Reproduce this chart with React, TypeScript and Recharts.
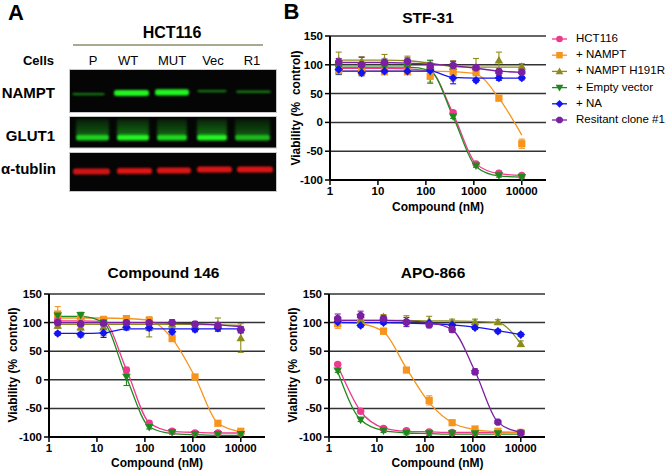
import React from 'react';
import { ComposedChart, Line, XAxis, YAxis, CartesianGrid, ErrorBar } from 'recharts';

// ---------- data ----------
const doses = [1.52, 4.57, 13.7, 41.2, 123, 370, 1111, 3333, 10000];
const xTicks = [1, 10, 100, 1000, 10000];
const yTicks = [-100, -50, 0, 50, 100, 150];
const seriesKeys = ['hct', 'nampt', 'h191r', 'vec', 'na', 'res'];
const seriesNames = ['HCT116', '+ NAMPT', '+ NAMPT H191R', '+ Empty vector', '+ NA', 'Resitant clone #1'];

// STF-31
const stfHct = [95, 93, 93, 94, 92, 17, -72, -88, -92];
const stfHctErr = [3, 3, 3, 3, 3, 3, 3, 3, 3];
const stfHctFit = [94, 94, 94, 93, 88, 15, -72, -89, -92];
const stfNampt = [90, 88, 88, 88, 80, 87, 87, 42, -37];
const stfNamptErr = [5, 5, 5, 5, 10, 15, 5, 4, 8];
const stfNamptFit = [89, 89, 89, 89, 89, 88, 84, 42, -22];
const stfH191r = [108, 106, 108, 107, 97, 97, 96, 108, 97];
const stfH191rErr = [14, 8, 10, 8, 10, 10, 15, 14, 5];
const stfH191rFit = [108, 108, 108, 107, 103, 97, 96, 96, 96];
const stfVec = [95, 96, 97, 96, 88, 10, -75, -92, -95];
const stfVecErr = [12, 5, 5, 5, 20, 3, 3, 3, 3];
const stfVecFit = [96, 96, 96, 96, 90, 10, -77, -93, -95];
const stfNa = [92, 86, 89, 89, 90, 77, 73, 77, 77];
const stfNaErr = [8, 5, 5, 5, 5, 10, 3, 4, 3];
const stfNaFit = [89, 89, 89, 89, 89, 78, 77, 77, 77];
const stfRes = [105, 100, 104, 106, 98, 99, 95, 88, 87];
const stfResErr = [6, 13, 6, 6, 5, 7, 5, 4, 8];
const stfResFit = [104, 104, 104, 103, 101, 98, 94, 89, 87];

// Compound 146
const c146Hct = [104, 105, 100, 17, -76, -90, -93, -93, -93];
const c146HctErr = [4, 6, 5, 5, 4, 3, 3, 3, 3];
const c146HctFit = [103, 103, 102, 18, -75, -90, -92, -93, -93];
const c146Nampt = [115, 108, 105, 107, 104, 72, 5, -76, -90];
const c146NamptErr = [13, 5, 6, 5, 6, 5, 3, 3, 4];
const c146NamptFit = [108, 108, 108, 107, 104, 72, 5, -76, -91];
const c146H191r = [95, 92, 92, 96, 92, 97, 95, 97, 73];
const c146H191rErr = [5, 5, 15, 5, 17, 5, 5, 11, 25];
const c146H191rFit = [97, 97, 97, 97, 97, 97, 97, 96, 95];
const c146Vec = [112, 113, 100, 5, -83, -92, -95, -95, -95];
const c146VecErr = [3, 5, 5, 15, 3, 3, 3, 3, 3];
const c146VecFit = [111, 111, 100, 4, -82, -94, -96, -97, -97];
const c146Na = [81, 79, 82, 92, 91, 84, 88, 90, 87];
const c146NaErr = [3, 4, 8, 5, 5, 4, 4, 5, 5];
const c146NaFit = [81, 81, 82, 89, 89, 89, 89, 89, 89];
const c146Res = [100, 98, 99, 100, 100, 100, 97, 95, 88];
const c146ResErr = [5, 5, 5, 5, 5, 5, 5, 5, 5];
const c146ResFit = [100, 100, 100, 100, 100, 99, 98, 96, 93];

// APO-866
const apoHct = [27, -55, -85, -89, -91, -92, -92, -92, -92];
const apoHctErr = [3, 3, 3, 3, 3, 3, 3, 3, 3];
const apoHctFit = [25, -55, -84, -90, -91, -92, -92, -92, -92];
const apoNampt = [98, 101, 85, 17, -36, -75, -86, -90, -92];
const apoNamptErr = [8, 3, 5, 4, 8, 3, 3, 3, 3];
const apoNamptFit = [101, 98, 84, 20, -40, -75, -87, -91, -92];
const apoH191r = [105, 105, 110, 104, 103, 101, 101, 101, 63];
const apoH191rErr = [4, 4, 4, 8, 8, 5, 5, 4, 5];
const apoH191rFit = [104, 104, 104, 104, 103, 103, 102, 100, 63];
const apoVec = [16, -70, -89, -93, -94, -94, -94, -94, -94];
const apoVecErr = [3, 3, 3, 3, 3, 3, 3, 3, 3];
const apoVecFit = [14, -70, -89, -93, -94, -95, -95, -95, -95];
const apoNa = [101, 95, 100, 100, 99, 96, 91, 85, 79];
const apoNaErr = [3, 3, 3, 3, 3, 3, 3, 3, 3];
const apoNaFit = [100, 100, 100, 99, 98, 96, 92, 86, 79];
const apoRes = [107, 112, 107, 101, 96, 88, 14, -74, -93];
const apoResErr = [8, 8, 5, 8, 5, 5, 5, 3, 3];
const apoResFit = [104, 104, 104, 103, 100, 88, 15, -74, -92];

// Western blot (panel A)
const lanes = ['P', 'WT', 'MUT', 'Vec', 'R1'];
const namptIntensity = [0.3, 1, 1, 0.28, 0.32];
const glutIntensity = [0.85, 1, 0.88, 1, 0.75];
const tubulinIntensity = [0.9, 0.95, 0.95, 0.95, 0.95];

// ---------- styles / layout ----------
const FONT = "'Liberation Sans', Arial, Helvetica, sans-serif";
const colors: Record<string, string> = {
  hct: '#EE3A8C',
  nampt: '#F7941D',
  h191r: '#8C8C1E',
  vec: '#1E8A1E',
  na: '#1414F0',
  res: '#7A1FA2',
};
const shapes: Record<string, string> = {
  hct: 'circle',
  nampt: 'square',
  h191r: 'up',
  vec: 'down',
  na: 'diamond',
  res: 'octagon',
};

type Series = { key: string; values: number[]; errs: number[]; fit: number[] };

function buildRows(series: Series[]) {
  return doses.map((d, i) => {
    const row: Record<string, number> = { dose: d };
    series.forEach((s) => {
      row[s.key] = s.values[i];
      row[s.key + 'Err'] = s.errs[i];
      row[s.key + 'Fit'] = s.fit[i];
    });
    return row;
  });
}

const stfSeries: Series[] = [
  { key: 'hct', values: stfHct, errs: stfHctErr, fit: stfHctFit },
  { key: 'nampt', values: stfNampt, errs: stfNamptErr, fit: stfNamptFit },
  { key: 'h191r', values: stfH191r, errs: stfH191rErr, fit: stfH191rFit },
  { key: 'vec', values: stfVec, errs: stfVecErr, fit: stfVecFit },
  { key: 'na', values: stfNa, errs: stfNaErr, fit: stfNaFit },
  { key: 'res', values: stfRes, errs: stfResErr, fit: stfResFit },
];
const c146Series: Series[] = [
  { key: 'hct', values: c146Hct, errs: c146HctErr, fit: c146HctFit },
  { key: 'nampt', values: c146Nampt, errs: c146NamptErr, fit: c146NamptFit },
  { key: 'h191r', values: c146H191r, errs: c146H191rErr, fit: c146H191rFit },
  { key: 'vec', values: c146Vec, errs: c146VecErr, fit: c146VecFit },
  { key: 'na', values: c146Na, errs: c146NaErr, fit: c146NaFit },
  { key: 'res', values: c146Res, errs: c146ResErr, fit: c146ResFit },
];
const apoSeries: Series[] = [
  { key: 'hct', values: apoHct, errs: apoHctErr, fit: apoHctFit },
  { key: 'nampt', values: apoNampt, errs: apoNamptErr, fit: apoNamptFit },
  { key: 'h191r', values: apoH191r, errs: apoH191rErr, fit: apoH191rFit },
  { key: 'vec', values: apoVec, errs: apoVecErr, fit: apoVecFit },
  { key: 'na', values: apoNa, errs: apoNaErr, fit: apoNaFit },
  { key: 'res', values: apoRes, errs: apoResErr, fit: apoResFit },
];

function Marker({ shape, cx, cy, color, s = 1 }: { shape: string; cx: number; cy: number; color: string; s?: number }) {
  const a = 4.3 * s;
  switch (shape) {
    case 'circle':
      return <circle cx={cx} cy={cy} r={3.7 * s} fill={color} />;
    case 'square':
      return <rect x={cx - 3.6 * s} y={cy - 3.6 * s} width={7.2 * s} height={7.2 * s} fill={color} />;
    case 'up':
      return <polygon points={`${cx},${cy - a} ${cx + a},${cy + a * 0.75} ${cx - a},${cy + a * 0.75}`} fill={color} />;
    case 'down':
      return <polygon points={`${cx - a},${cy - a * 0.75} ${cx + a},${cy - a * 0.75} ${cx},${cy + a}`} fill={color} />;
    case 'diamond':
      return <polygon points={`${cx},${cy - a} ${cx + a},${cy} ${cx},${cy + a} ${cx - a},${cy}`} fill={color} />;
    default: {
      const r = 4 * s;
      const pts = Array.from({ length: 8 }, (_, i) => {
        const ang = (Math.PI / 8) + (i * Math.PI) / 4;
        return `${cx + r * Math.cos(ang)},${cy + r * Math.sin(ang)}`;
      }).join(' ');
      return <polygon points={pts} fill={color} />;
    }
  }
}

const PLOT_W = 216;
const Y_AXIS_W = 40;
const M_TOP = 6;
const M_RIGHT = 4;
const X_AXIS_H = 30;
const X_MAX = 32000;

function DoseChart({ series, plotLeft, plotTop, plotH }: { series: Series[]; plotLeft: number; plotTop: number; plotH: number }) {
  const rows = buildRows(series);
  const tickStyle = { fill: '#000', fontSize: 11.5, fontWeight: 700, fontFamily: FONT };
  return (
    <div style={{ position: 'absolute', left: plotLeft - Y_AXIS_W, top: plotTop - M_TOP }}>
      <ComposedChart
        width={Y_AXIS_W + PLOT_W + M_RIGHT}
        height={M_TOP + plotH + X_AXIS_H}
        data={rows}
        margin={{ top: M_TOP, right: M_RIGHT, left: 0, bottom: 0 }}
        style={{ fontFamily: FONT }}
      >
        <CartesianGrid vertical={false} horizontal stroke="#333" strokeWidth={1.5} />
        <XAxis
          dataKey="dose"
          type="number"
          scale="log"
          domain={[1, X_MAX]}
          allowDataOverflow
          ticks={xTicks}
          interval={0}
          height={X_AXIS_H}
          tick={tickStyle}
          tickSize={5}
          tickMargin={2}
          axisLine={{ stroke: '#000', strokeWidth: 2 }}
          tickLine={{ stroke: '#000', strokeWidth: 1.5 }}
        />
        <YAxis
          type="number"
          domain={[-100, 150]}
          ticks={yTicks}
          interval={0}
          width={Y_AXIS_W}
          tick={tickStyle}
          tickSize={5}
          tickMargin={2}
          axisLine={{ stroke: '#000', strokeWidth: 2 }}
          tickLine={{ stroke: '#000', strokeWidth: 1.5 }}
        />
        {series.map((s) => (
          <Line
            key={s.key + 'Fit'}
            dataKey={s.key + 'Fit'}
            type="monotone"
            stroke={colors[s.key]}
            strokeWidth={1.3}
            dot={false}
            activeDot={false}
            isAnimationActive={false}
          />
        ))}
        {series.map((s) => (
          <Line
            key={s.key}
            dataKey={s.key}
            stroke="none"
            activeDot={false}
            isAnimationActive={false}
            dot={(p: any) =>
              p.cx == null || p.cy == null ? (
                <g key={`${s.key}-${p.index}`} />
              ) : (
                <Marker key={`${s.key}-${p.index}`} shape={shapes[s.key]} cx={p.cx} cy={p.cy} color={colors[s.key]} />
              )
            }
          >
            <ErrorBar dataKey={s.key + 'Err'} direction="y" width={3} stroke={colors[s.key]} strokeWidth={1.1} />
          </Line>
        ))}
      </ComposedChart>
    </div>
  );
}

function Txt({ x, y, children, size, bold = true, align = 'center' }: any) {
  const tx = align === 'center' ? '-50%' : align === 'right' ? '-100%' : '0';
  return (
    <div
      style={{
        position: 'absolute',
        left: x,
        top: y,
        transform: `translate(${tx},-50%)`,
        fontFamily: FONT,
        fontSize: size,
        fontWeight: bold ? 700 : 400,
        lineHeight: 1,
        whiteSpace: 'nowrap',
        color: '#000',
      }}
    >
      {children}
    </div>
  );
}

function RotTxt({ x, y, children, size }: any) {
  return (
    <div
      style={{
        position: 'absolute',
        left: x,
        top: y,
        transform: 'translate(-50%,-50%) rotate(-90deg)',
        fontFamily: FONT,
        fontSize: size,
        fontWeight: 700,
        lineHeight: 1,
        whiteSpace: 'nowrap',
        color: '#000',
      }}
    >
      {children}
    </div>
  );
}

// blot layout
const laneLabelX = [93, 128, 172, 213, 252];
const namptBands = [
  [72, 105, 93, 2.2],
  [114, 149, 90, 6],
  [155, 189, 89.2, 6.2],
  [197, 227, 90, 2.2],
  [236, 271, 90.5, 2.4],
];
const glutBands = [
  [76, 109],
  [117, 149],
  [157, 187],
  [197, 227],
  [235, 270],
];
const tubBands = [
  [73, 110, 168.5],
  [117, 152, 168],
  [157, 191, 167.5],
  [197, 232, 166.5],
  [237, 273, 166.5],
];

function Blot() {
  return (
    <svg width={290} height={200} style={{ position: 'absolute', left: 0, top: 0 }}>
      <defs>
        <filter id="blur1" x="-20%" y="-100%" width="140%" height="300%">
          <feGaussianBlur stdDeviation="0.8" />
        </filter>
        <filter id="blur2" x="-20%" y="-50%" width="140%" height="200%">
          <feGaussianBlur stdDeviation="1.5" />
        </filter>
        <linearGradient id="smear" x1="0" y1="0" x2="0" y2="1">
          <stop offset="0" stopColor="#1fbf1f" stopOpacity="0.15" />
          <stop offset="1" stopColor="#1fbf1f" stopOpacity="0.55" />
        </linearGradient>
      </defs>
      <line x1={73} y1={45} x2={263} y2={45} stroke="#8d8d6a" strokeWidth={1.3} />
      {/* NAMPT */}
      <rect x={69.5} y={69.5} width={207} height={43} fill="#050505" stroke="#c8c8c8" strokeWidth={1} />
      {namptBands.map((b, i) => (
        <rect
          key={'n' + i}
          x={b[0]}
          y={b[2]}
          width={b[1] - b[0]}
          height={b[3]}
          rx={2.5}
          fill={namptIntensity[i] > 0.5 ? '#22f522' : '#1c9a1c'}
          opacity={namptIntensity[i] > 0.5 ? 1 : 0.8}
          filter="url(#blur1)"
        />
      ))}
      {/* GLUT1 */}
      <rect x={69.5} y={116.5} width={207} height={31.5} fill="#050505" stroke="#c8c8c8" strokeWidth={1} />
      {glutBands.map((b, i) => (
        <g key={'g' + i} opacity={glutIntensity[i]}>
          <rect x={b[0]} y={119} width={b[1] - b[0]} height={16} fill="url(#smear)" filter="url(#blur2)" />
          <rect x={b[0]} y={134.5} width={b[1] - b[0]} height={6} rx={2.5} fill="#22f522" filter="url(#blur1)" />
        </g>
      ))}
      {/* alpha-tubulin */}
      <rect x={69.5} y={152.5} width={207} height={39} fill="#050505" stroke="#c8c8c8" strokeWidth={1} />
      {tubBands.map((b, i) => (
        <rect
          key={'t' + i}
          x={b[0]}
          y={b[2]}
          width={b[1] - b[0]}
          height={6}
          rx={2.5}
          fill="#e81818"
          opacity={tubulinIntensity[i]}
          filter="url(#blur1)"
        />
      ))}
    </svg>
  );
}

function LegendBox() {
  const y0 = 39;
  const step = 16.2;
  return (
    <>
      <svg width={30} height={140} style={{ position: 'absolute', left: 548, top: 25 }}>
        {seriesKeys.map((k, i) => {
          const cy = y0 + i * step - 25;
          return (
            <g key={k}>
              <line x1={4} x2={19} y1={cy} y2={cy} stroke={colors[k]} strokeWidth={1.3} />
              <Marker shape={shapes[k]} cx={11.5} cy={cy} color={colors[k]} s={0.9} />
            </g>
          );
        })}
      </svg>
      {seriesNames.map((n, i) => (
        <Txt key={n} x={576} y={y0 + i * step} size={11.5} bold={false} align="left">
          {n}
        </Txt>
      ))}
    </>
  );
}

export default function App() {
  return (
    <div style={{ position: 'absolute', left: 0, top: 0, width: 666, height: 471, background: '#fff', overflow: 'hidden' }}>
      <Blot />
      <Txt x={16} y={13} size={22}>A</Txt>
      <Txt x={291.5} y={12} size={22}>B</Txt>
      <Txt x={172} y={33} size={16}>HCT116</Txt>
      <Txt x={54} y={60} size={13} align="right">Cells</Txt>
      {lanes.map((l, i) => (
        <Txt key={l} x={laneLabelX[i]} y={60} size={13} bold={false}>
          {l}
        </Txt>
      ))}
      <Txt x={55} y={92} size={15} align="right">NAMPT</Txt>
      <Txt x={55} y={135} size={15} align="right">GLUT1</Txt>
      <Txt x={56} y={168} size={15} align="right">α-tublin</Txt>

      <DoseChart series={stfSeries} plotLeft={330} plotTop={36} plotH={144} />
      <DoseChart series={c146Series} plotLeft={49} plotTop={294} plotH={143} />
      <DoseChart series={apoSeries} plotLeft={329} plotTop={294} plotH={143} />

      <Txt x={428} y={18} size={15.5}>STF-31</Txt>
      <Txt x={163.5} y={273} size={15.5}>Compound 146</Txt>
      <Txt x={433} y={273} size={15.5}>APO-866</Txt>

      <RotTxt x={296} y={108} size={12}>Viability (%{'\u00a0'} control)</RotTxt>
      <RotTxt x={13} y={365} size={12}>Viability (%{'\u00a0'} control)</RotTxt>
      <RotTxt x={293} y={365} size={12}>Viability (%{'\u00a0'} control)</RotTxt>

      <Txt x={438} y={207} size={12}>Compound (nM)</Txt>
      <Txt x={157} y={463} size={12}>Compound (nM)</Txt>
      <Txt x={437.5} y={463} size={12}>Compound (nM)</Txt>

      <LegendBox />
    </div>
  );
}
